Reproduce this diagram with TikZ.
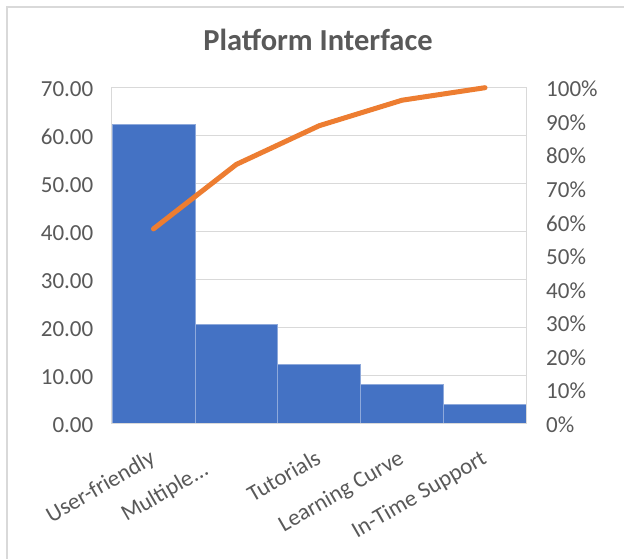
\documentclass[tikz,border=0pt]{standalone}
\usepackage{fontspec}
\setmainfont{Carlito}
\definecolor{txtgrey}{HTML}{595959}
\definecolor{gridgrey}{HTML}{D9D9D9}
\definecolor{framegrey}{HTML}{D9D9D9}
\definecolor{barblue}{HTML}{4472C4}
\definecolor{baredge}{HTML}{8EA9DB}
\definecolor{paretoorange}{HTML}{ED7D31}
\begin{document}
\begin{tikzpicture}[x=1pt,y=-1pt,
  ticklbl/.style={text=txtgrey, font=\fontsize{23}{27}\selectfont, inner sep=0pt},
  catlbl/.style={ticklbl, rotate=30},
  titlelbl/.style={text=txtgrey, font=\fontsize{30.5}{36}\selectfont\bfseries, inner sep=0pt},
  gridline/.style={draw=gridgrey, line width=1.2pt},
  barbox/.style={fill=barblue, draw=baredge, line width=0.8pt},
  pareto/.style={draw=paretoorange, line width=5pt, line cap=round, line join=round},
  chartframe/.style={draw=framegrey, line width=1.2pt}]
\useasboundingbox (0,0) rectangle (624,559);
\fill[white] (0,0) rectangle (624,559);

% outer chart frame
\draw[chartframe] (7,559) -- (7,7) -- (624,7);

% title
\node[titlelbl, anchor=base] (title) at (318,51) {Platform Interface};

% horizontal gridlines (10 .. 60)
\foreach \g in {375.36,327.42,279.48,231.54,183.60,135.66}
  \draw[gridline] (111.8,\g) -- (526.8,\g);

% histogram bars
\draw[barbox] (112.0,423.3) rectangle (194.9,124.2);
\draw[barbox] (194.9,423.3) rectangle (277.8,324.1);
\draw[barbox] (277.8,423.3) rectangle (360.7,363.9);
\draw[barbox] (360.7,423.3) rectangle (443.6,384.0);
\draw[barbox] (443.6,423.3) rectangle (526.5,404.1);

% plot area border and category axis
\draw[gridline] (111.8,87.7) rectangle (526.8,423.3);

% left value axis labels
\foreach \v/\g [count=\i] in {0.00/423.3,10.00/375.36,20.00/327.42,30.00/279.48,40.00/231.54,50.00/183.60,60.00/135.66,70.00/87.72}
  \node[ticklbl, anchor=east] (yl\i) at (93.5,\g+1.4) {\v};

% right percentage axis labels
\foreach \p/\g [count=\i] in {0\%/423.3,10\%/389.7,20\%/356.2,30\%/322.6,40\%/289.1,50\%/255.5,60\%/221.9,70\%/188.4,80\%/154.8,90\%/121.3,100\%/87.7}
  \node[ticklbl, anchor=west] (pl\i) at (546,\g+1.4) {\p};

% category labels
\node[catlbl, anchor=base east] (c1) at (156.5,462.5) {User-friendly};
\node[catlbl, anchor=base west] (c2) at (126.5,522) {Multiple...};
\node[catlbl, anchor=base east] (c3) at (322.3,462.5) {Tutorials};
\node[catlbl, anchor=base east] (c4) at (405.2,462.5) {Learning Curve};
\node[catlbl, anchor=base east] (c5) at (488.1,462.5) {In-Time Support};

% cumulative percentage line
\coordinate (p1) at (153.45,228.9);
\coordinate (p2) at (236.35,164.4);
\coordinate (p3) at (319.25,125.7);
\coordinate (p4) at (402.15,100.2);
\coordinate (p5) at (485.05,87.7);
\draw[pareto] (p1) -- (p2) -- (p3) -- (p4) -- (p5);
\end{tikzpicture}
\end{document}
